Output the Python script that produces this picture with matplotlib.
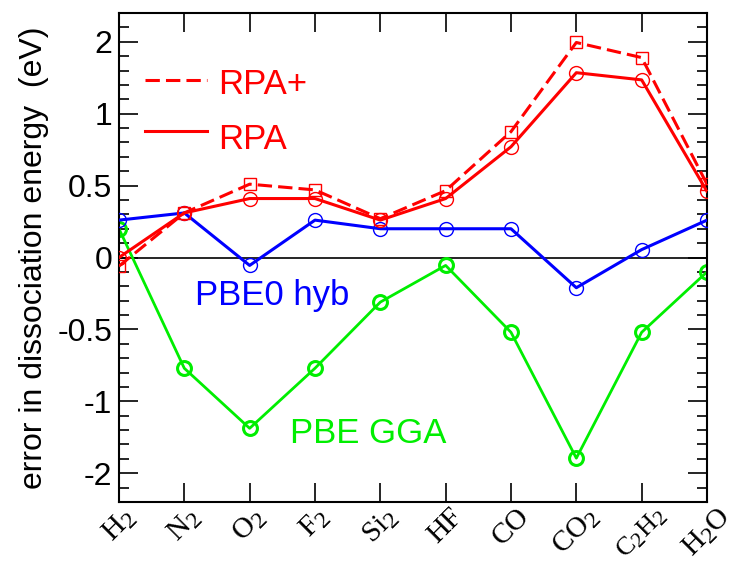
import numpy as np
import matplotlib
matplotlib.use("Agg")
import matplotlib.pyplot as plt
import matplotlib._mathtext as mathtext_internal
from matplotlib.ticker import FixedLocator, FixedFormatter

plt.rcParams['font.family'] = ['Liberation Sans', 'DejaVu Sans']
plt.rcParams['mathtext.fontset'] = 'custom'
plt.rcParams['mathtext.rm'] = 'Liberation Serif'
plt.rcParams['mathtext.it'] = 'Liberation Serif'
# larger subscripts in the molecule names
mathtext_internal.SHRINK_FACTOR = 0.82

# Molecules and errors in dissociation energy (eV)
molecules = [r'H$_2$', r'N$_2$', r'O$_2$', r'F$_2$', r'Si$_2$', 'HF', 'CO',
             r'CO$_2$', r'C$_2$H$_2$', r'H$_2$O']
rpa_plus = [-0.06, 0.31, 0.51, 0.47, 0.27, 0.465, 0.875, 1.99, 1.78, 0.51]
rpa = [0.0, 0.31, 0.41, 0.41, 0.26, 0.41, 0.77, 1.57, 1.47, 0.46]
pbe0 = [0.26, 0.31, -0.055, 0.26, 0.2, 0.2, 0.2, -0.21, 0.055, 0.26]
pbe = [0.2, -0.77, -1.375, -0.77, -0.31, -0.055, -0.52, -1.79, -0.52, -0.1]

ytick_values = [-2, -1, -0.5, 0, 0.5, 1, 2]
ytick_labels = ['-2', '-1', '-0.5', '0', '0.5', '1', '2']

RED, BLUE, GREEN = '#ff0000', '#0000ff', '#00ee00'
DASH = (4.7, 2.0)


def forward(v):
    """Linear up to |v| = 1, half the slope beyond."""
    v = np.asarray(v, dtype=float)
    a = np.abs(v)
    return np.sign(v) * np.where(a <= 1, 2 * a, 1 + a)


def inverse(t):
    t = np.asarray(t, dtype=float)
    a = np.abs(t)
    return np.sign(t) * np.where(a <= 2, a / 2, a - 1)


fig = plt.figure(figsize=(7.38, 5.63), dpi=100)
ax = fig.add_axes([0.1612, 0.1083, 0.958 - 0.1612, 0.9769 - 0.1083])
ax.set_yscale('function', functions=(forward, inverse))

x = np.arange(len(molecules))

ax.axhline(0, color='black', lw=1.2, zorder=1)

ax.plot(x, pbe, color=GREEN, lw=2.0, marker='o', ms=10, mfc='none',
        mec=GREEN, mew=2.2, zorder=2)
ax.plot(x, pbe0, color=BLUE, lw=2.2, marker='o', ms=10, mfc='none',
        mec=BLUE, mew=1.0, zorder=3)
ax.plot(x, rpa, color=RED, lw=2.2, marker='o', ms=10, mfc='none',
        mec=RED, mew=1.0, zorder=4)
ax.plot(x, rpa_plus, color=RED, lw=2.2, marker='s', ms=8.5, mfc='none',
        mec=RED, mew=1.0, dashes=DASH, zorder=4)

ax.set_xlim(0, len(molecules) - 1)
ax.set_ylim(inverse(-3.4), inverse(3.4))

ax.set_xticks(x)
ax.set_xticklabels(molecules, rotation=45, ha='center', va='top',
                   family='Liberation Serif', fontsize=21)
# the longest name is set a little smaller so it stays inside the figure
ax.get_xticklabels()[8].set_fontsize(19)
ax.yaxis.set_major_locator(FixedLocator(ytick_values))
ax.yaxis.set_major_formatter(FixedFormatter(ytick_labels))
minor_t = np.arange(-3.2, 3.21, 0.2)
ax.yaxis.set_minor_locator(FixedLocator(inverse(minor_t)))

ax.tick_params(axis='both', which='major', direction='in', length=13.5,
               width=1.2, top=True, right=True)
ax.tick_params(axis='y', which='major', labelsize=23, pad=5)
ax.tick_params(axis='y', which='minor', direction='in', length=7,
               width=1.2, right=True)
ax.tick_params(axis='x', which='major', pad=1)
for s in ax.spines.values():
    s.set_linewidth(1.5)

ax.set_ylabel('error in dissociation energy  (eV)', fontsize=23, labelpad=6)


def px_x(px):
    return (px - 119) / 588 * (len(molecules) - 1)


def px_y(py):
    return inverse((257 - py) / 72)


# key lines for the two RPA curves
ax.plot([px_x(145), px_x(207)], [px_y(79)] * 2, color=RED, lw=2.2,
        dashes=DASH)
ax.plot([px_x(145), px_x(207)], [px_y(130)] * 2, color=RED, lw=2.2)

ax.text(px_x(218), px_y(93), 'RPA+', color=RED, fontsize=25,
        va='baseline', ha='left')
ax.text(px_x(218), px_y(148), 'RPA', color=RED, fontsize=25,
        va='baseline', ha='left')
ax.text(px_x(195), px_y(305), 'PBE0 hyb', color=BLUE, fontsize=25,
        va='baseline', ha='left')
ax.text(px_x(290), px_y(443), 'PBE GGA', color=GREEN, fontsize=25,
        va='baseline', ha='left')

fig.savefig('out.png', dpi=100)
